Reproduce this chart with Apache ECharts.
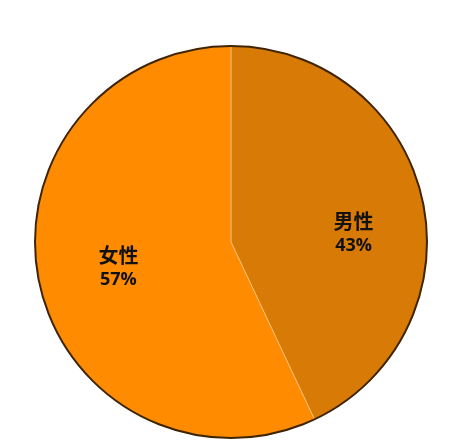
<!doctype html>
<html>
<head>
<meta charset="utf-8">
<title>性别比例</title>
<script src="https://cdn.jsdelivr.net/npm/echarts@6/dist/echarts.min.js"></script>
<style>
html, body { margin: 0; padding: 0; background: #fff; }
#chart { width: 463px; height: 446px; }
</style>
</head>
<body>
<div id="chart"></div>
<script>
var categories = ['男性', '女性'];
var values = [43, 57];
var colors = ['#d87a06', '#ff8c00'];
// label nudges relative to the default inside position
var labelShift = [[24, 12], [-14, 2]];

var chart = echarts.init(document.getElementById('chart'));
var pieData = categories.map(function (name, i) {
	return { name: name, value: values[i], itemStyle: { color: colors[i] } };
});

chart.setOption({
	animation: false,
	series: [{
		type: 'pie',
		center: [231, 242],
		radius: [0, 196],
		startAngle: 90,
		clockwise: true,
		silent: true,
		itemStyle: {
			borderColor: '#f7d9b0',
			borderWidth: 0.5
		},
		label: {
			show: true,
			position: 'inside',
			formatter: function (p) {
				return '{n|' + p.name + '}\n{v|' + p.value + '%}';
			},
			rich: {
				n: { fontFamily: 'Noto Sans CJK SC', fontSize: 20, fontWeight: 'bold', color: '#111', lineHeight: 27 },
				v: { fontFamily: 'Open Sans', fontSize: 18, fontWeight: 'bold', color: '#111', lineHeight: 22 }
			}
		},
		labelLayout: function (p) {
			var s = labelShift[p.dataIndex];
			return { dx: s[0], dy: s[1] };
		},
		data: pieData
	}, {
		type: 'pie',
		center: [231, 242],
		radius: [0, 196],
		silent: true,
		label: { show: false },
		itemStyle: { color: 'rgba(0,0,0,0)', borderColor: '#3f2400', borderWidth: 2 },
		data: [{ name: 'outline', value: 1 }]
	}]
});
</script>
</body>
</html>
